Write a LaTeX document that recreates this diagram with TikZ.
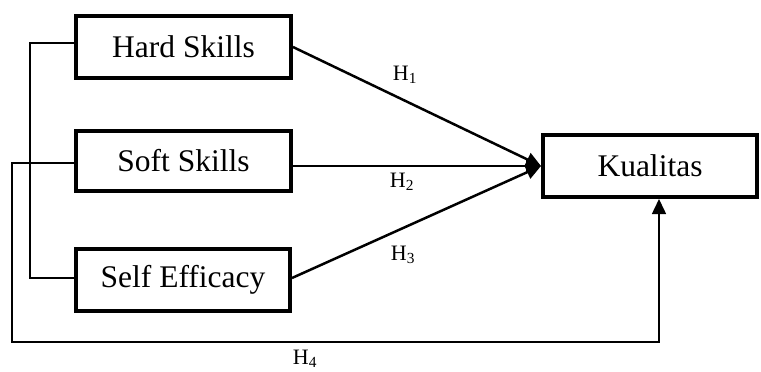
\documentclass[tikz,border=0pt]{standalone}
\usepackage{fontspec}
\setmainfont{Liberation Serif}
\usetikzlibrary{arrows.meta,calc}
\tikzset{
  box/.style={draw, line width=4pt, rectangle, inner sep=0pt, font=\fontsize{31.5}{37}\selectfont},
  conn/.style={line width=2.5pt, -{Triangle[length=15pt,width=14pt]}},
  thinline/.style={line width=1.5pt},
  hlab/.style={font=\fontsize{22}{26}\selectfont, inner sep=0pt}
}
\begin{document}
\begin{tikzpicture}[x=1pt,y=-1pt]
\useasboundingbox (0,0) rectangle (761,372);
\node[box, minimum width=215pt, minimum height=62pt] (hs) at (183.5,47) {Hard Skills};
\node[box, minimum width=215pt, minimum height=60pt] (ss) at (183.5,161) {Soft Skills};
\node[box, minimum width=214pt, minimum height=62pt] (se) at (183,280) {Self Efficacy};
\node[box, minimum width=214pt, minimum height=62pt] (kq) at (650,166) {Kualitas};
\coordinate (c1) at (12,342);
\draw[conn] (hs.east) -- (kq.west);
\draw[conn] (ss.east |- kq.west) -- (kq.west);
\draw[conn] ([yshift=2pt]se.east) -- (kq.west);
\draw[thinline] ([yshift=4pt]hs.west) -- ++(-44,0) |- ([yshift=2pt]se.west);
\draw[thinline, -{Triangle[length=15pt,width=14pt]}] ([yshift=-2pt]ss.west) -| (c1) -| ([xshift=9pt]kq.south);
\node[hlab] (h1) at (405,75) {H\textsubscript{1}};
\node[hlab] (h2) at (402,182) {H\textsubscript{2}};
\node[hlab] (h3) at (403,255) {H\textsubscript{3}};
\node[hlab] (h4) at (305,359) {H\textsubscript{4}};
\end{tikzpicture}
\end{document}
